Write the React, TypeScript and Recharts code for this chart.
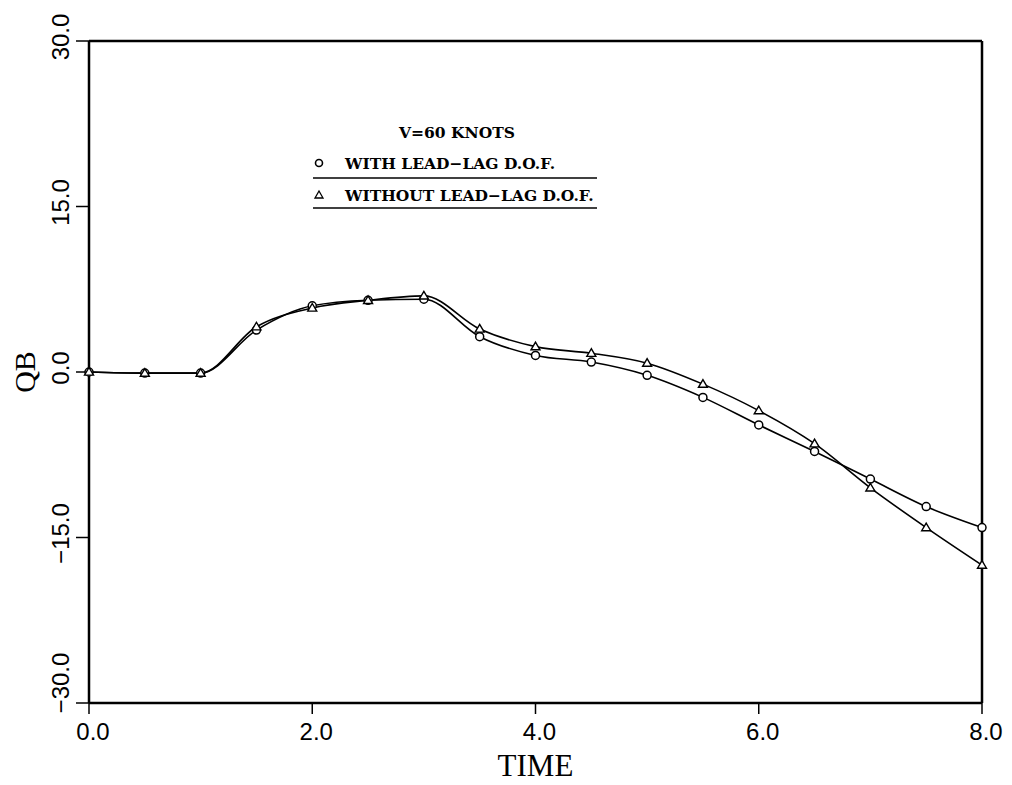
import React from 'react';
import {
  LineChart,
  Line,
  XAxis,
  YAxis,
  ReferenceLine,
} from 'recharts';

// time in seconds
const TIME = [0, 0.5, 1.0, 1.5, 2.0, 2.5, 3.0, 3.5, 4.0, 4.5, 5.0, 5.5, 6.0, 6.5, 7.0, 7.5, 8.0];

// QB
const WITH_LEAD_LAG = [0, -0.1, -0.1, 3.8, 6.0, 6.5, 6.6, 3.2, 1.5, 0.9, -0.3, -2.3, -4.8, -7.2, -9.7, -12.2, -14.1];
const WITHOUT_LEAD_LAG = [0, -0.1, -0.1, 4.1, 5.8, 6.5, 6.9, 3.9, 2.3, 1.7, 0.8, -1.1, -3.5, -6.5, -10.5, -14.1, -17.5];

const X_TICKS = [0, 2, 4, 6, 8];
const Y_TICKS = [-30, -15, 0, 15, 30];

const data = TIME.map((t, i) => ({
  t,
  withLL: WITH_LEAD_LAG[i],
  withoutLL: WITHOUT_LEAD_LAG[i],
}));

const SERIF = '"Liberation Serif", "DejaVu Serif", serif';
const SANS = '"Liberation Sans", Arial, sans-serif';
const LEGEND_FONT = '"DejaVu Serif", "Liberation Serif", serif';

const fmt = (v: number) => v.toFixed(1).replace('-', '\u2212');

const CircleDot = (props: any) => {
  const { cx, cy } = props;
  if (cx == null || cy == null) return null;
  return <circle cx={cx} cy={cy} r={4} fill="#fff" stroke="#000" strokeWidth={1.5} />;
};

const TriangleDot = (props: any) => {
  const { cx, cy } = props;
  if (cx == null || cy == null) return null;
  const s = 4.5;
  return (
    <polygon
      points={`${cx},${cy - s} ${cx - s},${cy + s * 0.7} ${cx + s},${cy + s * 0.7}`}
      fill="#fff"
      stroke="#000"
      strokeWidth={1.4}
    />
  );
};

const XTick = (props: any) => {
  const { x, y, payload } = props;
  return (
    <text x={x + 4} y={y + 24} textAnchor="middle" fontFamily={SANS} fontSize={24} fill="#000">
      {fmt(Number(payload.value))}
    </text>
  );
};

const YTick = (props: any) => {
  const { x, y, payload } = props;
  const cx = x - 14;
  // the bottom label is lifted clear of the x axis labels, as in the original
  const cy = Number(payload.value) === Y_TICKS[0] ? y - 20 : y - 4;
  return (
    <text
      x={cx}
      y={cy}
      textAnchor="middle"
      dominantBaseline="central"
      transform={`rotate(-90, ${cx}, ${cy})`}
      fontFamily={SANS}
      fontSize={24}
      fill="#000"
    >
      {fmt(Number(payload.value))}
    </text>
  );
};

const Legend = () => (
  <div style={{ position: 'absolute', left: 0, top: 0, width: 1012, height: 785, pointerEvents: 'none' }}>
    <svg width={1012} height={785}>
      <text x={457} y={138} textAnchor="middle" fontFamily={LEGEND_FONT} fontWeight="bold" fontSize={15.5} fill="#000">
        V=60 KNOTS
      </text>
      <circle cx={319} cy={163} r={3.5} fill="#fff" stroke="#000" strokeWidth={1.6} />
      <text x={345} y={169} fontFamily={LEGEND_FONT} fontWeight="bold" fontSize={15.5} fill="#000">
        WITH LEAD−LAG D.O.F.
      </text>
      <line x1={313} x2={597} y1={178} y2={178} stroke="#000" strokeWidth={1.6} />
      <polygon points="319,191 315,198 323,198" fill="#fff" stroke="#000" strokeWidth={1.3} />
      <text x={345} y={201} fontFamily={LEGEND_FONT} fontWeight="bold" fontSize={15.5} fill="#000">
        WITHOUT LEAD−LAG D.O.F.
      </text>
      <line x1={313} x2={597} y1={208} y2={208} stroke="#000" strokeWidth={1.6} />
    </svg>
  </div>
);

export default function App() {
  return (
    <div style={{ position: 'absolute', left: 0, top: 0, width: 1012, height: 785, background: '#fff' }}>
      <LineChart
        width={1012}
        height={785}
        data={data}
        margin={{ top: 41, right: 30, bottom: 32, left: 29 }}
      >
        <XAxis
          dataKey="t"
          type="number"
          domain={[0, 8]}
          ticks={X_TICKS}
          interval={0}
          height={50}
          axisLine={{ stroke: '#000', strokeWidth: 2.5 }}
          tickLine={{ stroke: '#000', strokeWidth: 1.5 }}
          tickSize={11}
          tickMargin={2}
          tick={<XTick />}
          label={({ viewBox }: any) => (
            <text
              x={viewBox.x + viewBox.width / 2}
              y={viewBox.y + 73}
              textAnchor="middle"
              fontFamily={SERIF}
              fontSize={31}
              fill="#000"
            >
              TIME
            </text>
          )}
        />
        <YAxis
          type="number"
          domain={[-30, 30]}
          ticks={Y_TICKS}
          interval={0}
          width={60}
          axisLine={{ stroke: '#000', strokeWidth: 2.5 }}
          tickLine={{ stroke: '#000', strokeWidth: 1.5 }}
          tickSize={13}
          tickMargin={2}
          tick={<YTick />}
          label={({ viewBox }: any) => {
            const cx = viewBox.x - 5;
            const cy = viewBox.y + viewBox.height / 2;
            return (
              <text
                x={cx}
                y={cy}
                textAnchor="middle"
                dominantBaseline="central"
                transform={`rotate(-90, ${cx}, ${cy})`}
                fontFamily={SERIF}
                fontSize={30}
                fill="#000"
              >
                QB
              </text>
            );
          }}
        />
        <ReferenceLine y={30} stroke="#000" strokeWidth={2.5} />
        <ReferenceLine x={8} stroke="#000" strokeWidth={2.5} />
        <Line
          dataKey="withLL"
          type="monotone"
          stroke="#000"
          strokeWidth={1.6}
          dot={<CircleDot />}
          isAnimationActive={false}
        />
        <Line
          dataKey="withoutLL"
          type="monotone"
          stroke="#000"
          strokeWidth={1.6}
          dot={<TriangleDot />}
          isAnimationActive={false}
        />
      </LineChart>
      <Legend />
    </div>
  );
}
